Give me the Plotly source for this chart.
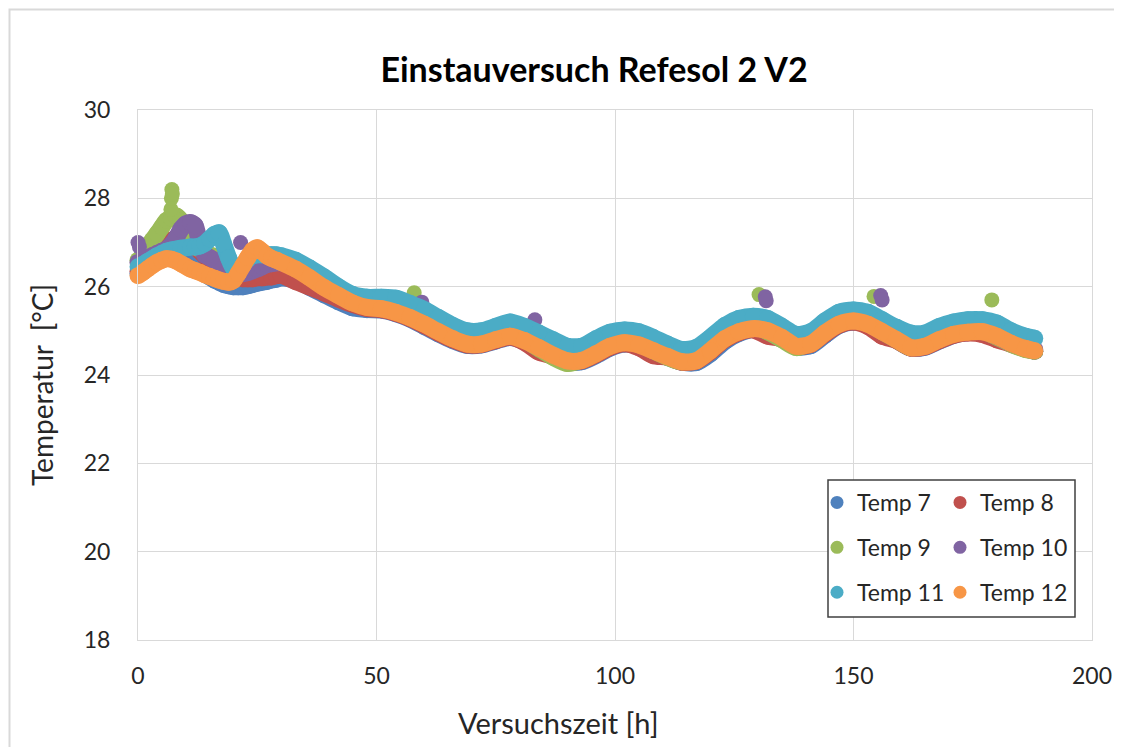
import plotly.graph_objects as go

# ---------------- data ----------------
T = [0, 1, 2, 3, 4, 5, 6, 7, 8, 9, 10, 11, 12, 13, 14, 15, 16, 17, 18, 19, 20,
     21, 22, 23, 24, 25, 26, 27, 28, 29, 30,
     33, 36, 39, 42, 45, 48, 51, 54, 57, 60, 63, 66, 69, 72, 75, 78, 81, 84, 87,
     90, 93, 96, 99, 102, 105, 108, 111, 114, 117, 120, 123, 126, 129, 132, 135,
     138, 141, 144, 147, 150, 153, 156, 159, 162, 165, 168, 171, 174, 177, 180,
     183, 186, 188]

temp7 = [26.30, 26.37, 26.45, 26.52, 26.58, 26.65, 26.70, 26.72, 26.70, 26.65, 26.58,
         26.50, 26.42, 26.35, 26.28, 26.22, 26.15, 26.10, 26.05, 26.02, 26.00,
         26.00, 26.00, 26.02, 26.05, 26.08, 26.10, 26.12, 26.15, 26.17, 26.20,
         26.15, 25.98, 25.82, 25.66, 25.52, 25.48, 25.47, 25.39, 25.27, 25.10, 24.93,
         24.78, 24.67, 24.68, 24.77, 24.85, 24.76, 24.60, 24.43, 24.30, 24.30, 24.44,
         24.61, 24.70, 24.66, 24.53, 24.40, 24.29, 24.28, 24.48, 24.76, 24.94, 25.03,
         24.99, 24.84, 24.64, 24.66, 24.90, 25.12, 25.20, 25.14, 24.97, 24.79, 24.61,
         24.63, 24.77, 24.90, 24.96, 24.97, 24.87, 24.71, 24.59, 24.54]

temp8 = [26.35, 26.45, 26.55, 26.65, 26.75, 26.85, 26.95, 27.05, 27.10, 27.12, 27.10,
         27.00, 26.90, 26.80, 26.70, 26.60, 26.50, 26.42, 26.35, 26.30, 26.25,
         26.20, 26.18, 26.18, 26.18, 26.20, 26.20, 26.22, 26.22, 26.25, 26.26,
         26.12, 25.99, 25.86, 25.72, 25.60, 25.51, 25.48, 25.40, 25.28, 25.12, 24.95,
         24.80, 24.68, 24.69, 24.78, 24.86, 24.74, 24.52, 24.43, 24.31, 24.32, 24.46,
         24.63, 24.71, 24.62, 24.44, 24.40, 24.29, 24.31, 24.53, 24.80, 24.96, 25.02,
         24.88, 24.82, 24.64, 24.69, 24.93, 25.13, 25.20, 25.10, 24.88, 24.78, 24.61,
         24.64, 24.78, 24.90, 24.95, 24.92, 24.80, 24.70, 24.59, 24.54]

temp9 = [26.60, 26.75, 26.90, 27.05, 27.20, 27.35, 27.50, 27.55, 27.60, 27.50, 27.30,
         27.10, 26.95, 26.85, 26.78, 26.72, 26.68, 26.60, 26.55, 26.45, 26.40,
         26.40, 26.45, 26.55, 26.62, 26.66, 26.68, 26.68, 26.66, 26.64, 26.62,
         26.50, 26.28, 26.05, 25.85, 25.68, 25.58, 25.55, 25.48, 25.35, 25.18, 25.00,
         24.84, 24.72, 24.75, 24.85, 24.92, 24.80, 24.60, 24.40, 24.26, 24.35, 24.62,
         24.80, 24.82, 24.72, 24.55, 24.40, 24.30, 24.45, 24.75, 24.98, 25.10, 25.10,
         24.98, 24.80, 24.62, 24.75, 25.05, 25.22, 25.28, 25.18, 24.98, 24.80, 24.62,
         24.70, 24.86, 24.98, 25.02, 25.00, 24.86, 24.70, 24.58, 24.54]

temp10 = [26.55, 26.60, 26.65, 26.70, 26.75, 26.80, 26.85, 26.95, 27.10, 27.30, 27.42,
          27.45, 27.38, 26.95, 26.72, 26.66, 26.60, 26.50, 26.42, 26.36, 26.32,
          26.30, 26.30, 26.32, 26.36, 26.40, 26.45, 26.50, 26.52, 26.54, 26.54,
          26.45, 26.25, 26.03, 25.83, 25.66, 25.56, 25.54, 25.46, 25.34, 25.18, 25.00,
          24.84, 24.72, 24.74, 24.84, 24.92, 24.82, 24.64, 24.46, 24.34, 24.36, 24.55,
          24.72, 24.80, 24.74, 24.62, 24.46, 24.34, 24.38, 24.64, 24.92, 25.06, 25.10,
          25.02, 24.86, 24.66, 24.74, 25.00, 25.20, 25.26, 25.18, 25.00, 24.82, 24.66,
          24.70, 24.85, 24.96, 25.00, 25.00, 24.88, 24.72, 24.62, 24.58]

temp11 = [26.45, 26.50, 26.57, 26.63, 26.70, 26.75, 26.80, 26.83, 26.85, 26.87, 26.88,
          26.90, 26.90, 26.92, 26.98, 27.08, 27.18, 27.22, 26.95, 26.65, 26.42,
          26.38, 26.50, 26.62, 26.70, 26.72, 26.72, 26.72, 26.72, 26.72, 26.70,
          26.60, 26.42, 26.22, 26.00, 25.82, 25.76, 25.76, 25.74, 25.62, 25.48, 25.30,
          25.12, 25.00, 25.00, 25.10, 25.20, 25.10, 24.95, 24.80, 24.65, 24.65, 24.82,
          24.97, 25.02, 24.98, 24.85, 24.70, 24.58, 24.62, 24.85, 25.12, 25.28, 25.33,
          25.28, 25.10, 24.92, 24.98, 25.22, 25.42, 25.47, 25.42, 25.25, 25.08, 24.95,
          24.95, 25.10, 25.20, 25.25, 25.25, 25.18, 25.00, 24.88, 24.83]

temp12 = [26.25, 26.32, 26.40, 26.48, 26.55, 26.60, 26.63, 26.62, 26.58, 26.52, 26.46,
          26.40, 26.36, 26.32, 26.27, 26.23, 26.19, 26.15, 26.12, 26.10, 26.14,
          26.30, 26.48, 26.66, 26.82, 26.88, 26.80, 26.70, 26.64, 26.60, 26.55,
          26.40, 26.20, 25.98, 25.80, 25.63, 25.53, 25.50, 25.42, 25.30, 25.15, 24.98,
          24.82, 24.70, 24.70, 24.80, 24.88, 24.78, 24.62, 24.45, 24.32, 24.33, 24.48,
          24.65, 24.73, 24.68, 24.55, 24.42, 24.30, 24.32, 24.55, 24.82, 24.98, 25.05,
          25.00, 24.85, 24.65, 24.70, 24.95, 25.15, 25.22, 25.15, 24.98, 24.80, 24.62,
          24.65, 24.80, 24.92, 24.97, 24.98, 24.88, 24.72, 24.60, 24.55]

# isolated readings (spikes / outliers)
temp9_extra_t = [6.9, 7.0, 7.1, 7.2, 57.9, 130.2, 154.3, 179.0]
temp9_extra_v = [27.75, 28.0, 28.2, 28.1, 25.86, 25.82, 25.78, 25.70]
temp10_extra_t = [0.0, 0.3, 21.5, 59.5, 83.2, 131.5, 131.7, 155.7, 156.0]
temp10_extra_v = [27.0, 26.9, 27.0, 25.65, 25.25, 25.77, 25.68, 25.80, 25.70]

series_names = ["Temp 7", "Temp 8", "Temp 9", "Temp 10", "Temp 11", "Temp 12"]
series_values = [temp7, temp8, temp9, temp10, temp11, temp12]
series_extra = [None, None, (temp9_extra_t, temp9_extra_v),
                (temp10_extra_t, temp10_extra_v), None, None]
colors = ["#4F81BD", "#C0504D", "#9BBB59", "#8064A2", "#4BACC6", "#F79646"]

x_ticks = [0, 50, 100, 150, 200]
y_ticks = [18, 20, 22, 24, 26, 28, 30]

FONT = "Lato"
TXT = "#262626"

# page body has an 8px margin: the figure is drawn 8px in from the window edge
OFF = 8
W, H = 1122 - 2 * OFF, 755 - 2 * OFF
PL, PR, PT, PB = 138, 1092, 110, 640          # plot area in window pixels


def px(xw):
    return (xw - PL) / (PR - PL)


def py(yw):
    return (PB - yw) / (PB - PT)


# ---------------- figure ----------------
fig = go.Figure()
for name, vals, extra, col in zip(series_names, series_values, series_extra, colors):
    fig.add_trace(go.Scatter(
        x=T, y=vals, mode="lines+markers", name=name, showlegend=False,
        line=dict(color=col, width=17, shape="spline", smoothing=0.7),
        marker=dict(color=col, size=17), cliponaxis=False, hoverinfo="skip"))
    if extra is not None:
        fig.add_trace(go.Scatter(
            x=extra[0], y=extra[1], mode="markers", name=name, showlegend=False,
            marker=dict(color=col, size=15), cliponaxis=False, hoverinfo="skip"))

# legend entries (two columns)
for i, (name, col) in enumerate(zip(series_names, colors)):
    fig.add_trace(go.Scatter(
        x=[None], y=[None], mode="markers", name=name, legendgroup=name,
        marker=dict(color=col, size=13),
        legend="legend" if i % 2 == 0 else "legend2"))

leg_common = dict(
    bgcolor="rgba(0,0,0,0)", borderwidth=0, orientation="v",
    font=dict(family=FONT, size=23, color=TXT),
    tracegroupgap=12, yanchor="top", xanchor="left", itemwidth=30)

fig.update_layout(
    width=W, height=H,
    margin=dict(l=PL - OFF, r=W - (PR - OFF), t=PT - OFF, b=H - (PB - OFF), autoexpand=False),
    paper_bgcolor="white", plot_bgcolor="white",
    font=dict(family=FONT, color=TXT),
    title=dict(text="<b>Einstauversuch Refesol 2 V2</b>", x=(594 - OFF) / W, xanchor="center",
               xref="container", y=1 - (70 - OFF) / H, yanchor="middle", yref="container",
               font=dict(family=FONT, size=34, color="#000000")),
    xaxis=dict(range=[0, 200], tickvals=x_ticks, showgrid=True, gridcolor="#d9d9d9",
               gridwidth=1, showline=True, linecolor="#d9d9d9", linewidth=1, mirror=True,
               zeroline=False, ticks="", ticklabelstandoff=15, automargin=False,
               tickfont=dict(family=FONT, size=23, color=TXT)),
    yaxis=dict(range=[18, 30], tickvals=y_ticks, showgrid=True, gridcolor="#d9d9d9",
               gridwidth=1, showline=True, linecolor="#d9d9d9", linewidth=1, mirror=True,
               zeroline=False, ticks="", ticklabelstandoff=22, automargin=False,
               tickfont=dict(family=FONT, size=23, color=TXT)),
    legend=dict(x=px(817), y=py(481), **leg_common),
    legend2=dict(x=px(940), y=py(481), **leg_common),
    shapes=[
        dict(type="rect", xref="paper", yref="paper",
             x0=px(9.5), x1=px(1160), y0=py(790), y1=py(9.5),
             line=dict(color="#d9d9d9", width=2), fillcolor="rgba(0,0,0,0)", layer="below"),
        dict(type="rect", xref="paper", yref="paper",
             x0=px(828), x1=px(1075), y0=py(617), y1=py(480),
             line=dict(color="#404040", width=1.5), fillcolor="white", layer="above"),
    ],
    annotations=[
        dict(text="Versuchszeit [h]", xref="paper", yref="paper",
             x=px(558), y=py(722), xanchor="center", yanchor="middle",
             showarrow=False, font=dict(family=FONT, size=29, color=TXT)),
        dict(text="Temperatur  [°C]", xref="paper", yref="paper",
             x=px(42), y=py(385), xanchor="center", yanchor="middle",
             textangle=-90, showarrow=False, font=dict(family=FONT, size=28, color=TXT)),
    ],
)

fig.write_html("out.html")
